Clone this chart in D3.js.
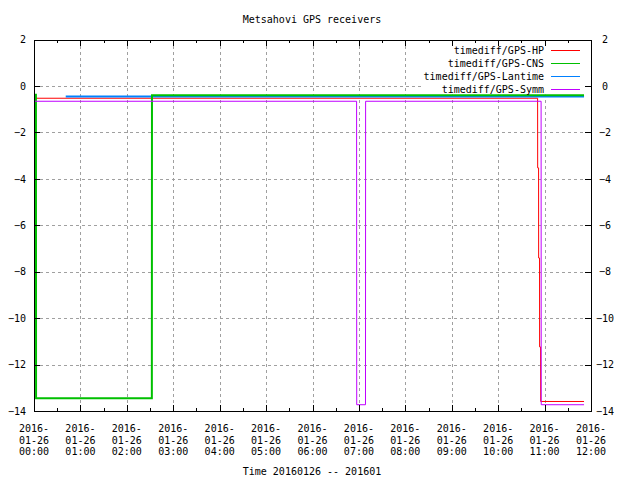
<!DOCTYPE html>
<html>
<head>
<meta charset="utf-8">
<script src="https://cdn.jsdelivr.net/npm/d3@7"></script>
<style>
  body { margin: 0; background: #fff; }
  svg { display: block; }
  text { font-family: "DejaVu Sans Mono", "Liberation Mono", monospace; font-size: 10px; fill: #000; }
</style>
</head>
<body>
<svg id="chart" width="640" height="480"></svg>
<script>
// ---- data ----
const seriesNames = ["timediff/GPS-HP", "timediff/GPS-CNS", "timediff/GPS-Lantime", "timediff/GPS-Symm"];
const seriesColors = ["#ff0000", "#00c000", "#0080ff", "#c000ff"];

const hpTimes = ["00:00:00", "10:51:00", "10:51:05", "10:52:15", "10:52:20", "10:53:30", "10:53:35", "10:54:50", "10:55:00", "11:51:00"];
const hpValues = [-0.53, -0.53, -3.53, -3.53, -7.41, -7.41, -11.24, -11.24, -13.59, -13.59];

const cnsTimes = ["00:00:00", "00:02:30", "00:02:40", "02:32:20", "02:32:30", "11:51:00"];
const cnsValues = [-0.38, -0.38, -13.45, -13.45, -0.40, -0.40];

const lantimeTimes = ["00:41:00", "11:51:00"];
const lantimeValues = [-0.46, -0.46];

const symmTimes = ["00:00:00", "06:57:00", "06:57:10", "07:08:30", "07:08:40", "10:55:30", "10:55:40", "11:51:00"];
const symmValues = [-0.66, -0.66, -13.73, -13.73, -0.66, -0.66, -13.73, -13.73];

const yTicks = [2, 0, -2, -4, -6, -8, -10, -12, -14];
const xTickTimes = ["00:00", "01:00", "02:00", "03:00", "04:00", "05:00", "06:00", "07:00", "08:00", "09:00", "10:00", "11:00", "12:00"];
const xTickDate = ["2016-", "01-26"];
const titleText = "Metsahovi GPS receivers";
const xLabelText = "Time 20160126 -- 201601";
const dayStr = "2016-01-26";

// ---- layout ----
const svg = d3.select("#chart");
const L = 34, R = 591, T = 39.5, B = 411;
const parse = d3.timeParse("%Y-%m-%d %H:%M:%S");
const t = s => parse(dayStr + " " + (s.length === 5 ? s + ":00" : s));

const x = d3.scaleTime().domain([t("00:00"), t("12:00")]).range([L, R]);
const y = d3.scaleLinear().domain([-14, 2]).range([B, T]);

const series = [
  {times: hpTimes, values: hpValues, width: 1},
  {times: cnsTimes, values: cnsValues, width: 2},
  {times: lantimeTimes, values: lantimeValues, width: 2},
  {times: symmTimes, values: symmValues, width: 1}
].map((s, i) => ({...s, name: seriesNames[i], color: seriesColors[i],
  pts: s.times.map((tt, j) => [t(tt), s.values[j]])}));

// grid
const grid = svg.append("g").attr("stroke", "#a0a0a0").attr("stroke-dasharray", "3,3").attr("shape-rendering", "crispEdges");
yTicks.filter(v => v < 2 && v > -14).forEach(v => {
  grid.append("line").attr("x1", L).attr("x2", R).attr("y1", Math.round(y(v)) + 0.5).attr("y2", Math.round(y(v)) + 0.5);
});
xTickTimes.slice(1, -1).forEach(s => {
  const xx = Math.round(x(t(s))) + 0.5;
  grid.append("line").attr("x1", xx).attr("x2", xx).attr("y1", T).attr("y2", B);
});

// key background (opaque)
svg.append("rect").attr("x", 423).attr("y", T + 1).attr("width", R - 423 - 1).attr("height", 54).attr("fill", "#fff");

// data lines (draw order: HP, Lantime, CNS, Symm)
const line = d3.line().x(d => x(d[0])).y(d => y(d[1]));
[0, 2, 1, 3].forEach(i => {
  const s = series[i];
  svg.append("path").attr("d", line(s.pts)).attr("fill", "none")
    .attr("stroke", s.color).attr("stroke-width", s.width);
});

// axes
const axG = svg.append("g").attr("shape-rendering", "crispEdges");
const yLeft = d3.axisLeft(y).tickValues(yTicks).tickSize(-6).tickPadding(8).tickFormat(d3.format("d"));
axG.append("g").attr("transform", `translate(${L},0)`).call(yLeft);
const yRight = d3.axisRight(y).tickValues(yTicks).tickSize(-6).tickPadding(14).tickFormat(d3.format("d"));
const gR = axG.append("g").attr("transform", `translate(${R},0)`).call(yRight);
gR.selectAll("text").attr("text-anchor", "middle");

const xTicks = xTickTimes.map(t);
axG.append("g").attr("transform", `translate(0,${B})`).call(d3.axisBottom(x).tickValues(xTicks).tickSize(-6).tickFormat(""));
axG.append("g").attr("transform", `translate(0,${T})`).call(d3.axisTop(x).tickValues(xTicks).tickSize(-6).tickFormat(""));
const minorTicks = xTicks.slice(0, -1).map(d => d3.timeMinute.offset(d, 30));
axG.append("g").attr("transform", `translate(0,${B})`).call(d3.axisBottom(x).tickValues(minorTicks).tickSize(-3).tickFormat(""));
axG.append("g").attr("transform", `translate(0,${T})`).call(d3.axisTop(x).tickValues(minorTicks).tickSize(-3).tickFormat(""));
axG.selectAll(".domain").remove();
axG.selectAll("line").attr("stroke", "#000");
svg.selectAll(".tick text").style("font-family", "DejaVu Sans Mono").style("font-size", "10px").attr("fill", "#000");

// frame
svg.append("rect").attr("x", L + 0.5).attr("y", Math.round(T) + 0.5).attr("width", R - L).attr("height", B - Math.round(T))
  .attr("fill", "none").attr("stroke", "#000").attr("shape-rendering", "crispEdges");

// x tick labels (three lines)
const xl = svg.append("g");
xTickTimes.forEach((s, i) => {
  const tx = xl.append("text").attr("x", x(xTicks[i])).attr("y", 432).attr("text-anchor", "middle");
  tx.append("tspan").attr("x", x(xTicks[i])).attr("dy", 0).text(xTickDate[0]);
  tx.append("tspan").attr("x", x(xTicks[i])).attr("dy", 11.5).text(xTickDate[1]);
  tx.append("tspan").attr("x", x(xTicks[i])).attr("dy", 11.5).text(s);
});

// title and axis label
svg.append("text").attr("x", 312).attr("y", 23).attr("text-anchor", "middle").text(titleText);
svg.append("text").attr("x", 312).attr("y", 475).attr("text-anchor", "middle").text(xLabelText);

// legend
series.forEach((s, i) => {
  const ly = 49.5 + i * 13;
  svg.append("text").attr("x", 544).attr("y", ly + 4).attr("text-anchor", "end").text(s.name);
  svg.append("line").attr("x1", 551).attr("x2", 580).attr("y1", Math.round(ly) + 0.5).attr("y2", Math.round(ly) + 0.5)
    .attr("stroke", s.color).attr("stroke-width", 1).attr("shape-rendering", "crispEdges");
});
</script>
</body>
</html>
